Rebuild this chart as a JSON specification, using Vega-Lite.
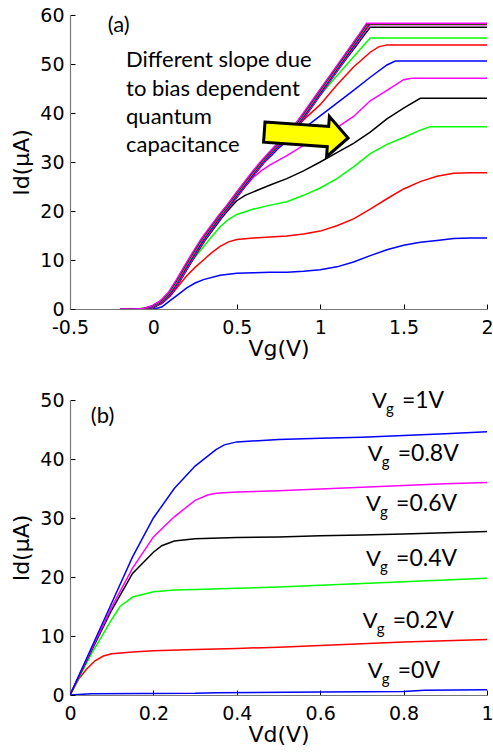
{
"$schema":"https://vega.github.io/schema/vega-lite/v6.json",
"padding":{"left":10,"top":6,"right":0,"bottom":0},
"spacing":31,
"resolve":{"scale":{"color":"independent"}},
"config":{"view":{"stroke":null},"font":"DejaVu Sans",
"axis":{"labelFont":"DejaVu Sans","labelFontSize":19,"labelColor":"#000","titleFont":"DejaVu Sans","titleFontSize":22,"titleFontWeight":"normal","titleColor":"#000","domainColor":"#777","domainWidth":1.2,"tickColor":"#000","tickSize":-5,"grid":false,"labelFlush":false,"labelOverlap":false},
"axisX":{"labelPadding":14,"titlePadding":1},
"axisY":{"labelPadding":11,"titlePadding":6}},
"datasets":{
"a":[
{"s":1,"x":-0.2,"y":0},{"s":1,"x":-0.1,"y":0},{"s":1,"x":0,"y":0},{"s":1,"x":0.05,"y":0.4},{"s":1,"x":0.1,"y":1.7},{"s":1,"x":0.15,"y":3.0},{"s":1,"x":0.2,"y":4.3},{"s":1,"x":0.25,"y":5.3},{"s":1,"x":0.3,"y":6.0},{"s":1,"x":0.4,"y":6.9},{"s":1,"x":0.5,"y":7.3},{"s":1,"x":0.6,"y":7.4},{"s":1,"x":0.7,"y":7.5},{"s":1,"x":0.8,"y":7.5},{"s":1,"x":0.9,"y":7.7},{"s":1,"x":1.0,"y":8.0},{"s":1,"x":1.1,"y":8.6},{"s":1,"x":1.2,"y":9.6},{"s":1,"x":1.3,"y":10.9},{"s":1,"x":1.4,"y":12.1},{"s":1,"x":1.5,"y":13.0},{"s":1,"x":1.6,"y":13.6},{"s":1,"x":1.7,"y":14.0},{"s":1,"x":1.8,"y":14.4},{"s":1,"x":1.9,"y":14.5},{"s":1,"x":2.0,"y":14.5},
{"s":2,"x":-0.2,"y":0},{"s":2,"x":-0.1,"y":0},{"s":2,"x":0,"y":0.3},{"s":2,"x":0.05,"y":1.1},{"s":2,"x":0.1,"y":2.6},{"s":2,"x":0.15,"y":4.7},{"s":2,"x":0.2,"y":6.8},{"s":2,"x":0.25,"y":8.5},{"s":2,"x":0.3,"y":10.0},{"s":2,"x":0.35,"y":11.5},{"s":2,"x":0.4,"y":12.8},{"s":2,"x":0.45,"y":13.7},{"s":2,"x":0.5,"y":14.2},{"s":2,"x":0.6,"y":14.5},{"s":2,"x":0.7,"y":14.7},{"s":2,"x":0.8,"y":14.9},{"s":2,"x":0.9,"y":15.3},{"s":2,"x":1.0,"y":15.9},{"s":2,"x":1.1,"y":17.0},{"s":2,"x":1.2,"y":18.4},{"s":2,"x":1.3,"y":20.4},{"s":2,"x":1.4,"y":22.5},{"s":2,"x":1.5,"y":24.5},{"s":2,"x":1.6,"y":26.0},{"s":2,"x":1.7,"y":27.1},{"s":2,"x":1.8,"y":27.7},{"s":2,"x":1.9,"y":27.8},{"s":2,"x":2.0,"y":27.8},
{"s":3,"x":-0.2,"y":0},{"s":3,"x":-0.1,"y":0},{"s":3,"x":0,"y":0.4},{"s":3,"x":0.05,"y":1.4},{"s":3,"x":0.1,"y":3.1},{"s":3,"x":0.15,"y":5.7},{"s":3,"x":0.2,"y":8.3},{"s":3,"x":0.25,"y":10.6},{"s":3,"x":0.3,"y":12.7},{"s":3,"x":0.35,"y":14.8},{"s":3,"x":0.4,"y":16.8},{"s":3,"x":0.45,"y":18.3},{"s":3,"x":0.5,"y":19.3},{"s":3,"x":0.6,"y":20.4},{"s":3,"x":0.7,"y":21.2},{"s":3,"x":0.8,"y":21.9},{"s":3,"x":0.9,"y":23.2},{"s":3,"x":1.0,"y":24.7},{"s":3,"x":1.1,"y":26.6},{"s":3,"x":1.2,"y":29.0},{"s":3,"x":1.3,"y":31.7},{"s":3,"x":1.4,"y":33.6},{"s":3,"x":1.5,"y":35.0},{"s":3,"x":1.6,"y":36.5},{"s":3,"x":1.66,"y":37.2},{"s":3,"x":2.0,"y":37.2},
{"s":4,"x":-0.2,"y":0},{"s":4,"x":-0.09,"y":0},{"s":4,"x":-0.04,"y":0.1},{"s":4,"x":0.01,"y":0.5},{"s":4,"x":0.06,"y":1.5},{"s":4,"x":0.11,"y":3.2},{"s":4,"x":0.16,"y":5.8},{"s":4,"x":0.21,"y":8.6},{"s":4,"x":0.26,"y":11.4},{"s":4,"x":0.31,"y":14.0},{"s":4,"x":0.36,"y":16.3},{"s":4,"x":0.41,"y":18.6},{"s":4,"x":0.46,"y":20.6},{"s":4,"x":0.5,"y":22.1},{"s":4,"x":0.55,"y":23.2},{"s":4,"x":0.6,"y":23.9},{"s":4,"x":0.7,"y":25.3},{"s":4,"x":0.8,"y":26.6},{"s":4,"x":0.9,"y":28.2},{"s":4,"x":1.0,"y":30.0},{"s":4,"x":1.1,"y":31.9},{"s":4,"x":1.2,"y":33.8},{"s":4,"x":1.3,"y":36.1},{"s":4,"x":1.4,"y":38.8},{"s":4,"x":1.5,"y":41.0},{"s":4,"x":1.6,"y":43.0},{"s":4,"x":2.0,"y":43.0},
{"s":5,"x":-0.2,"y":0},{"s":5,"x":-0.09,"y":0},{"s":5,"x":-0.04,"y":0.1},{"s":5,"x":0.01,"y":0.6},{"s":5,"x":0.06,"y":1.6},{"s":5,"x":0.11,"y":3.3},{"s":5,"x":0.16,"y":6.0},{"s":5,"x":0.21,"y":8.9},{"s":5,"x":0.26,"y":11.7},{"s":5,"x":0.31,"y":14.4},{"s":5,"x":0.36,"y":16.7},{"s":5,"x":0.41,"y":19.0},{"s":5,"x":0.46,"y":21.1},{"s":5,"x":0.51,"y":23.3},{"s":5,"x":0.55,"y":25.0},{"s":5,"x":0.6,"y":26.9},{"s":5,"x":0.65,"y":28.3},{"s":5,"x":0.7,"y":29.4},{"s":5,"x":0.8,"y":31.3},{"s":5,"x":0.9,"y":33.4},{"s":5,"x":1.0,"y":35.5},{"s":5,"x":1.1,"y":37.0},{"s":5,"x":1.2,"y":39.3},{"s":5,"x":1.3,"y":42.5},{"s":5,"x":1.4,"y":44.6},{"s":5,"x":1.5,"y":46.8},{"s":5,"x":1.55,"y":47.1},{"s":5,"x":2.0,"y":47.1},
{"s":6,"x":-0.2,"y":0},{"s":6,"x":-0.09,"y":0},{"s":6,"x":-0.04,"y":0.1},{"s":6,"x":0.01,"y":0.6},{"s":6,"x":0.06,"y":1.6},{"s":6,"x":0.11,"y":3.3},{"s":6,"x":0.16,"y":6.0},{"s":6,"x":0.21,"y":8.9},{"s":6,"x":0.26,"y":11.7},{"s":6,"x":0.31,"y":14.4},{"s":6,"x":0.36,"y":16.7},{"s":6,"x":0.41,"y":19.0},{"s":6,"x":0.46,"y":21.1},{"s":6,"x":0.51,"y":23.4},{"s":6,"x":0.56,"y":25.6},{"s":6,"x":0.61,"y":27.8},{"s":6,"x":0.66,"y":29.8},{"s":6,"x":0.71,"y":31.4},{"s":6,"x":0.75,"y":32.8},{"s":6,"x":0.8,"y":34.2},{"s":6,"x":0.9,"y":36.8},{"s":6,"x":1.0,"y":39.4},{"s":6,"x":1.1,"y":42.0},{"s":6,"x":1.2,"y":44.6},{"s":6,"x":1.3,"y":47.3},{"s":6,"x":1.4,"y":49.8},{"s":6,"x":1.45,"y":50.6},{"s":6,"x":2.0,"y":50.6},
{"s":7,"x":-0.2,"y":0},{"s":7,"x":-0.092,"y":0},{"s":7,"x":-0.042,"y":0.1},{"s":7,"x":0.008,"y":0.6},{"s":7,"x":0.058,"y":1.6},{"s":7,"x":0.108,"y":3.3},{"s":7,"x":0.158,"y":6.0},{"s":7,"x":0.208,"y":8.9},{"s":7,"x":0.258,"y":11.7},{"s":7,"x":0.308,"y":14.4},{"s":7,"x":0.358,"y":16.7},{"s":7,"x":0.408,"y":19.0},{"s":7,"x":0.458,"y":21.1},{"s":7,"x":0.508,"y":23.4},{"s":7,"x":0.558,"y":25.6},{"s":7,"x":0.608,"y":27.8},{"s":7,"x":0.658,"y":29.9},{"s":7,"x":0.708,"y":31.8},{"s":7,"x":0.758,"y":33.6},{"s":7,"x":0.808,"y":35.4},{"s":7,"x":0.858,"y":37.1},{"s":7,"x":0.9,"y":38.6},{"s":7,"x":1.0,"y":41.7},{"s":7,"x":1.1,"y":45.7},{"s":7,"x":1.2,"y":49.4},{"s":7,"x":1.3,"y":52.4},{"s":7,"x":1.35,"y":53.5},{"s":7,"x":1.4,"y":53.9},{"s":7,"x":2.0,"y":53.9},
{"s":8,"x":-0.2,"y":0},{"s":8,"x":-0.09,"y":0},{"s":8,"x":-0.04,"y":0.1},{"s":8,"x":0.01,"y":0.6},{"s":8,"x":0.06,"y":1.6},{"s":8,"x":0.11,"y":3.3},{"s":8,"x":0.16,"y":6.0},{"s":8,"x":0.21,"y":8.9},{"s":8,"x":0.26,"y":11.7},{"s":8,"x":0.31,"y":14.4},{"s":8,"x":0.36,"y":16.7},{"s":8,"x":0.41,"y":19.0},{"s":8,"x":0.46,"y":21.1},{"s":8,"x":0.51,"y":23.4},{"s":8,"x":0.56,"y":25.6},{"s":8,"x":0.61,"y":27.8},{"s":8,"x":0.66,"y":29.9},{"s":8,"x":0.71,"y":31.8},{"s":8,"x":0.76,"y":33.6},{"s":8,"x":0.81,"y":35.4},{"s":8,"x":0.86,"y":37.2},{"s":8,"x":0.91,"y":39.4},{"s":8,"x":0.96,"y":41.6},{"s":8,"x":1.0,"y":43.6},{"s":8,"x":1.1,"y":47.6},{"s":8,"x":1.2,"y":51.5},{"s":8,"x":1.3,"y":55.3},{"s":8,"x":2.0,"y":55.3},
{"s":9,"x":-0.2,"y":0},{"s":9,"x":-0.086,"y":0},{"s":9,"x":-0.036,"y":0.1},{"s":9,"x":0.014,"y":0.6},{"s":9,"x":0.064,"y":1.6},{"s":9,"x":0.114,"y":3.3},{"s":9,"x":0.164,"y":6.0},{"s":9,"x":0.214,"y":8.9},{"s":9,"x":0.264,"y":11.7},{"s":9,"x":0.314,"y":14.4},{"s":9,"x":0.364,"y":16.7},{"s":9,"x":0.414,"y":19.0},{"s":9,"x":0.464,"y":21.1},{"s":9,"x":0.514,"y":23.4},{"s":9,"x":0.564,"y":25.6},{"s":9,"x":0.614,"y":27.8},{"s":9,"x":0.664,"y":29.9},{"s":9,"x":0.714,"y":31.8},{"s":9,"x":0.764,"y":33.6},{"s":9,"x":0.814,"y":35.4},{"s":9,"x":0.864,"y":37.2},{"s":9,"x":0.914,"y":39.5},{"s":9,"x":0.964,"y":41.9},{"s":9,"x":1.014,"y":44.3},{"s":9,"x":1.064,"y":46.7},{"s":9,"x":1.114,"y":49.1},{"s":9,"x":1.164,"y":51.4},{"s":9,"x":1.214,"y":53.6},{"s":9,"x":1.264,"y":55.9},{"s":9,"x":1.3,"y":57.5},{"s":9,"x":2.0,"y":57.5},
{"s":10,"x":-0.2,"y":0},{"s":10,"x":-0.088,"y":0},{"s":10,"x":-0.038,"y":0.1},{"s":10,"x":0.012,"y":0.6},{"s":10,"x":0.062,"y":1.6},{"s":10,"x":0.112,"y":3.3},{"s":10,"x":0.162,"y":6.0},{"s":10,"x":0.212,"y":8.9},{"s":10,"x":0.262,"y":11.7},{"s":10,"x":0.312,"y":14.4},{"s":10,"x":0.362,"y":16.7},{"s":10,"x":0.412,"y":19.0},{"s":10,"x":0.462,"y":21.1},{"s":10,"x":0.512,"y":23.4},{"s":10,"x":0.562,"y":25.6},{"s":10,"x":0.612,"y":27.8},{"s":10,"x":0.662,"y":29.9},{"s":10,"x":0.712,"y":31.8},{"s":10,"x":0.762,"y":33.6},{"s":10,"x":0.812,"y":35.4},{"s":10,"x":0.862,"y":37.2},{"s":10,"x":0.912,"y":39.5},{"s":10,"x":0.962,"y":41.9},{"s":10,"x":1.012,"y":44.3},{"s":10,"x":1.062,"y":46.7},{"s":10,"x":1.112,"y":49.1},{"s":10,"x":1.162,"y":51.5},{"s":10,"x":1.212,"y":53.9},{"s":10,"x":1.262,"y":56.3},{"s":10,"x":1.298,"y":58.0},{"s":10,"x":2.0,"y":58.0},
{"s":11,"x":-0.2,"y":0},{"s":11,"x":-0.094,"y":0},{"s":11,"x":-0.044,"y":0.1},{"s":11,"x":0.006,"y":0.6},{"s":11,"x":0.056,"y":1.6},{"s":11,"x":0.106,"y":3.3},{"s":11,"x":0.156,"y":6.0},{"s":11,"x":0.206,"y":8.9},{"s":11,"x":0.256,"y":11.7},{"s":11,"x":0.306,"y":14.4},{"s":11,"x":0.356,"y":16.7},{"s":11,"x":0.406,"y":19.0},{"s":11,"x":0.456,"y":21.1},{"s":11,"x":0.506,"y":23.4},{"s":11,"x":0.556,"y":25.6},{"s":11,"x":0.606,"y":27.8},{"s":11,"x":0.656,"y":29.9},{"s":11,"x":0.706,"y":31.8},{"s":11,"x":0.756,"y":33.6},{"s":11,"x":0.806,"y":35.4},{"s":11,"x":0.856,"y":37.2},{"s":11,"x":0.906,"y":39.5},{"s":11,"x":0.956,"y":41.9},{"s":11,"x":1.006,"y":44.3},{"s":11,"x":1.056,"y":46.7},{"s":11,"x":1.106,"y":49.1},{"s":11,"x":1.156,"y":51.5},{"s":11,"x":1.206,"y":53.9},{"s":11,"x":1.256,"y":56.3},{"s":11,"x":1.294,"y":58.1},{"s":11,"x":2.0,"y":58.1},
{"s":12,"x":-0.2,"y":0},{"s":12,"x":-0.1,"y":0},{"s":12,"x":-0.05,"y":0.1},{"s":12,"x":0,"y":0.6},{"s":12,"x":0.05,"y":1.6},{"s":12,"x":0.1,"y":3.3},{"s":12,"x":0.15,"y":6.0},{"s":12,"x":0.2,"y":8.9},{"s":12,"x":0.25,"y":11.7},{"s":12,"x":0.3,"y":14.4},{"s":12,"x":0.35,"y":16.7},{"s":12,"x":0.4,"y":19.0},{"s":12,"x":0.45,"y":21.1},{"s":12,"x":0.5,"y":23.4},{"s":12,"x":0.55,"y":25.6},{"s":12,"x":0.6,"y":27.8},{"s":12,"x":0.65,"y":29.9},{"s":12,"x":0.7,"y":31.8},{"s":12,"x":0.75,"y":33.6},{"s":12,"x":0.8,"y":35.4},{"s":12,"x":0.85,"y":37.2},{"s":12,"x":0.9,"y":39.5},{"s":12,"x":0.95,"y":41.9},{"s":12,"x":1.0,"y":44.3},{"s":12,"x":1.05,"y":46.7},{"s":12,"x":1.1,"y":49.1},{"s":12,"x":1.15,"y":51.5},{"s":12,"x":1.2,"y":53.9},{"s":12,"x":1.25,"y":56.3},{"s":12,"x":1.29,"y":58.1},{"s":12,"x":2.0,"y":58.1},
{"s":13,"x":-0.2,"y":0},{"s":13,"x":-0.104,"y":0},{"s":13,"x":-0.054,"y":0.1},{"s":13,"x":-0.004,"y":0.6},{"s":13,"x":0.046,"y":1.6},{"s":13,"x":0.096,"y":3.3},{"s":13,"x":0.146,"y":6.0},{"s":13,"x":0.196,"y":8.9},{"s":13,"x":0.246,"y":11.7},{"s":13,"x":0.296,"y":14.4},{"s":13,"x":0.346,"y":16.7},{"s":13,"x":0.396,"y":19.0},{"s":13,"x":0.446,"y":21.1},{"s":13,"x":0.496,"y":23.4},{"s":13,"x":0.546,"y":25.6},{"s":13,"x":0.596,"y":27.8},{"s":13,"x":0.646,"y":29.9},{"s":13,"x":0.696,"y":31.8},{"s":13,"x":0.746,"y":33.6},{"s":13,"x":0.796,"y":35.4},{"s":13,"x":0.846,"y":37.2},{"s":13,"x":0.896,"y":39.5},{"s":13,"x":0.946,"y":41.9},{"s":13,"x":0.996,"y":44.3},{"s":13,"x":1.046,"y":46.7},{"s":13,"x":1.096,"y":49.1},{"s":13,"x":1.146,"y":51.5},{"s":13,"x":1.196,"y":53.9},{"s":13,"x":1.246,"y":56.3},{"s":13,"x":1.284,"y":58.2},{"s":13,"x":2.0,"y":58.2},
{"s":14,"x":-0.2,"y":0},{"s":14,"x":-0.108,"y":0},{"s":14,"x":-0.058,"y":0.1},{"s":14,"x":-0.008,"y":0.6},{"s":14,"x":0.042,"y":1.6},{"s":14,"x":0.092,"y":3.3},{"s":14,"x":0.142,"y":6.0},{"s":14,"x":0.192,"y":8.9},{"s":14,"x":0.242,"y":11.7},{"s":14,"x":0.292,"y":14.4},{"s":14,"x":0.342,"y":16.7},{"s":14,"x":0.392,"y":19.0},{"s":14,"x":0.442,"y":21.1},{"s":14,"x":0.492,"y":23.4},{"s":14,"x":0.542,"y":25.6},{"s":14,"x":0.592,"y":27.8},{"s":14,"x":0.642,"y":29.9},{"s":14,"x":0.692,"y":31.8},{"s":14,"x":0.742,"y":33.6},{"s":14,"x":0.792,"y":35.4},{"s":14,"x":0.842,"y":37.2},{"s":14,"x":0.892,"y":39.5},{"s":14,"x":0.942,"y":41.9},{"s":14,"x":0.992,"y":44.3},{"s":14,"x":1.042,"y":46.7},{"s":14,"x":1.092,"y":49.1},{"s":14,"x":1.142,"y":51.5},{"s":14,"x":1.192,"y":53.9},{"s":14,"x":1.242,"y":56.3},{"s":14,"x":1.28,"y":58.2},{"s":14,"x":2.0,"y":58.2},
{"s":15,"x":-0.2,"y":0},{"s":15,"x":-0.112,"y":0},{"s":15,"x":-0.062,"y":0.1},{"s":15,"x":-0.012,"y":0.6},{"s":15,"x":0.038,"y":1.6},{"s":15,"x":0.088,"y":3.3},{"s":15,"x":0.138,"y":6.0},{"s":15,"x":0.188,"y":8.9},{"s":15,"x":0.238,"y":11.7},{"s":15,"x":0.288,"y":14.4},{"s":15,"x":0.338,"y":16.7},{"s":15,"x":0.388,"y":19.0},{"s":15,"x":0.438,"y":21.1},{"s":15,"x":0.488,"y":23.4},{"s":15,"x":0.538,"y":25.6},{"s":15,"x":0.588,"y":27.8},{"s":15,"x":0.638,"y":29.9},{"s":15,"x":0.688,"y":31.8},{"s":15,"x":0.738,"y":33.6},{"s":15,"x":0.788,"y":35.4},{"s":15,"x":0.838,"y":37.2},{"s":15,"x":0.888,"y":39.5},{"s":15,"x":0.938,"y":41.9},{"s":15,"x":0.988,"y":44.3},{"s":15,"x":1.038,"y":46.7},{"s":15,"x":1.088,"y":49.1},{"s":15,"x":1.138,"y":51.5},{"s":15,"x":1.188,"y":53.9},{"s":15,"x":1.238,"y":56.3},{"s":15,"x":1.278,"y":58.3},{"s":15,"x":2.0,"y":58.3}
],
"arrow":[{"x":0.916,"y":35.5}],
"ta":[{"t":"(a)","x":-0.274,"y":56.6},{"t":"Different slope due","x":-0.164,"y":49.3},{"t":"to bias dependent","x":-0.164,"y":43.5},{"t":"quantum","x":-0.164,"y":37.8},{"t":"capacitance","x":-0.164,"y":32.0}],
"b":[
{"s":"v0","x":0,"y":0},{"s":"v0","x":0.05,"y":0.2},{"s":"v0","x":0.3,"y":0.3},{"s":"v0","x":0.35,"y":0.4},{"s":"v0","x":0.6,"y":0.5},{"s":"v0","x":0.8,"y":0.6},{"s":"v0","x":0.85,"y":0.8},{"s":"v0","x":1.0,"y":0.9},
{"s":"v02","x":0,"y":0},{"s":"v02","x":0.02,"y":2.6},{"s":"v02","x":0.04,"y":4.4},{"s":"v02","x":0.06,"y":5.8},{"s":"v02","x":0.08,"y":6.6},{"s":"v02","x":0.1,"y":7.0},{"s":"v02","x":0.15,"y":7.3},{"s":"v02","x":0.2,"y":7.5},{"s":"v02","x":0.3,"y":7.7},{"s":"v02","x":0.4,"y":7.9},{"s":"v02","x":0.5,"y":8.1},{"s":"v02","x":0.6,"y":8.4},{"s":"v02","x":0.7,"y":8.7},{"s":"v02","x":0.8,"y":9.0},{"s":"v02","x":0.9,"y":9.2},{"s":"v02","x":1.0,"y":9.4},
{"s":"v04","x":0,"y":0},{"s":"v04","x":0.05,"y":6.8},{"s":"v04","x":0.1,"y":12.8},{"s":"v04","x":0.12,"y":15.0},{"s":"v04","x":0.15,"y":16.6},{"s":"v04","x":0.2,"y":17.5},{"s":"v04","x":0.25,"y":17.8},{"s":"v04","x":0.3,"y":17.9},{"s":"v04","x":0.4,"y":18.1},{"s":"v04","x":0.5,"y":18.3},{"s":"v04","x":0.6,"y":18.6},{"s":"v04","x":0.7,"y":18.9},{"s":"v04","x":0.8,"y":19.2},{"s":"v04","x":0.9,"y":19.5},{"s":"v04","x":1.0,"y":19.8},
{"s":"v06","x":0,"y":0},{"s":"v06","x":0.05,"y":7.3},{"s":"v06","x":0.1,"y":14.4},{"s":"v06","x":0.15,"y":20.6},{"s":"v06","x":0.2,"y":24.2},{"s":"v06","x":0.22,"y":25.3},{"s":"v06","x":0.25,"y":26.1},{"s":"v06","x":0.3,"y":26.5},{"s":"v06","x":0.4,"y":26.7},{"s":"v06","x":0.5,"y":26.8},{"s":"v06","x":0.6,"y":27.0},{"s":"v06","x":0.7,"y":27.1},{"s":"v06","x":0.8,"y":27.3},{"s":"v06","x":0.9,"y":27.5},{"s":"v06","x":1.0,"y":27.7},
{"s":"v08","x":0,"y":0},{"s":"v08","x":0.05,"y":7.5},{"s":"v08","x":0.1,"y":14.9},{"s":"v08","x":0.15,"y":21.5},{"s":"v08","x":0.2,"y":26.8},{"s":"v08","x":0.25,"y":30.2},{"s":"v08","x":0.3,"y":33.0},{"s":"v08","x":0.33,"y":33.9},{"s":"v08","x":0.35,"y":34.2},{"s":"v08","x":0.4,"y":34.4},{"s":"v08","x":0.5,"y":34.6},{"s":"v08","x":0.6,"y":34.9},{"s":"v08","x":0.7,"y":35.2},{"s":"v08","x":0.8,"y":35.5},{"s":"v08","x":0.9,"y":35.8},{"s":"v08","x":1.0,"y":36.0},
{"s":"v10","x":0,"y":0},{"s":"v10","x":0.05,"y":7.8},{"s":"v10","x":0.1,"y":15.6},{"s":"v10","x":0.15,"y":23.4},{"s":"v10","x":0.2,"y":30.0},{"s":"v10","x":0.25,"y":35.0},{"s":"v10","x":0.3,"y":38.8},{"s":"v10","x":0.35,"y":41.6},{"s":"v10","x":0.37,"y":42.4},{"s":"v10","x":0.4,"y":42.9},{"s":"v10","x":0.5,"y":43.3},{"s":"v10","x":0.6,"y":43.5},{"s":"v10","x":0.7,"y":43.7},{"s":"v10","x":0.8,"y":44.0},{"s":"v10","x":0.9,"y":44.3},{"s":"v10","x":1.0,"y":44.6}
],
"lb":[{"t":"=1V","x":0.724,"y":50.0},{"t":"=0.8V","x":0.714,"y":41.0},{"t":"=0.6V","x":0.71,"y":32.5},{"t":"=0.4V","x":0.71,"y":23.2},{"t":"=0.2V","x":0.702,"y":12.7},{"t":"=0V","x":0.714,"y":4.2}],
"tb":[{"t":"(b)","x":0.05,"y":46.1}]
},
"vconcat":[
{"width":417,"height":294,
"encoding":{
"x":{"field":"x","type":"quantitative","scale":{"domain":[-0.5,2],"nice":false,"zero":false},"axis":{"title":"Vg(V)","values":[-0.5,0,0.5,1,1.5,2],"labelExpr":"''+datum.value"}},
"y":{"field":"y","type":"quantitative","scale":{"domain":[0,60],"nice":false},"axis":{"title":"Id(μA)","values":[0,10,20,30,40,50,60]}}},
"layer":[
{"data":{"name":"a"},"mark":{"type":"line","strokeWidth":1.5,"clip":true},
"encoding":{"color":{"field":"s","type":"nominal","legend":null,"scale":{"domain":[1,2,3,4,5,6,7,8,9,10,11,12,13,14,15],"range":["#0000FF","#FF0000","#00FF00","#000000","#FF00FF","#0000FF","#FF0000","#00FF00","#000000","#FF00FF","#0000FF","#FF0000","#00FF00","#000000","#FF00FF"]}}}},
{"data":{"name":"arrow"},"mark":{"type":"point","shape":"M-1,-0.24L0.52,-0.24L0.52,-0.48L1,0L0.52,0.48L0.52,0.24L-1,0.24Z","size":7056,"filled":true,"fill":"#FFFF00","stroke":"#000000","strokeWidth":3,"opacity":1,"angle":4}},
{"data":{"name":"ta"},"mark":{"type":"text","align":"left","baseline":"alphabetic","font":"Lato","fontSize":22,"color":"#000"},"encoding":{"text":{"field":"t"}}}
]},
{"width":417,"height":295,
"encoding":{
"x":{"field":"x","type":"quantitative","scale":{"domain":[0,1],"nice":false},"axis":{"title":"Vd(V)","values":[0,0.2,0.4,0.6,0.8,1],"labelExpr":"''+datum.value"}},
"y":{"field":"y","type":"quantitative","scale":{"domain":[0,50],"nice":false},"axis":{"title":"Id(μA)","values":[0,10,20,30,40,50]}}},
"layer":[
{"data":{"name":"b"},"mark":{"type":"line","strokeWidth":1.5,"clip":true},
"encoding":{"color":{"field":"s","type":"nominal","legend":null,"scale":{"domain":["v0","v02","v04","v06","v08","v10"],"range":["#0000FF","#FF0000","#00FF00","#000000","#FF00FF","#0000FF"]}}}},
{"data":{"name":"lb"},"mark":{"type":"text","align":"left","baseline":"alphabetic","font":"Lato","fontSize":22,"dy":8,"text":"V","color":"#000"}},
{"data":{"name":"lb"},"mark":{"type":"text","align":"left","baseline":"alphabetic","font":"Lato","fontSize":15,"dx":14,"dy":14,"text":"g","color":"#000"}},
{"data":{"name":"lb"},"mark":{"type":"text","align":"left","baseline":"alphabetic","font":"Lato","fontSize":23,"dx":30,"dy":8,"color":"#000"},"encoding":{"text":{"field":"t"}}},
{"data":{"name":"tb"},"mark":{"type":"text","align":"left","baseline":"alphabetic","font":"Lato","fontSize":22,"color":"#000"},"encoding":{"text":{"field":"t"}}}
]}
]
}
